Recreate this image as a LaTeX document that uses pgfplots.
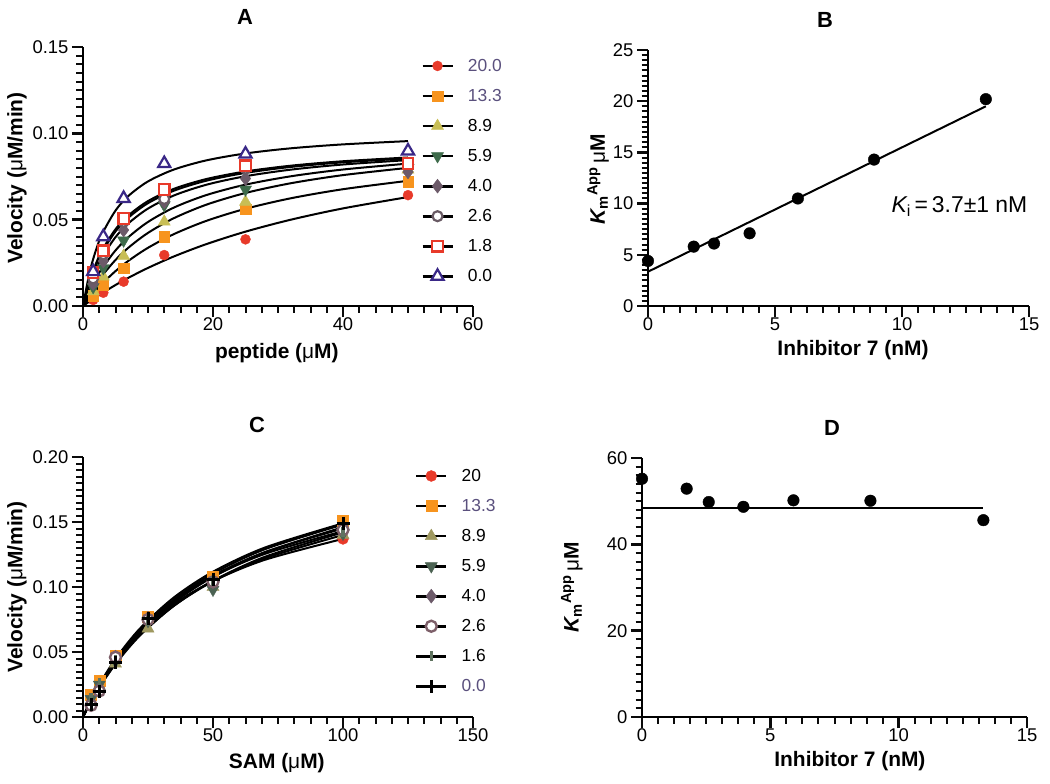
\documentclass[border=0pt]{standalone}
\usepackage{fontspec}
\setmainfont{Liberation Sans}
\usepackage{pgfplots}
\pgfplotsset{compat=1.18}
\definecolor{cRed}{RGB}{232,58,42}
\definecolor{cOrange}{RGB}{247,148,30}
\definecolor{cYellow}{RGB}{200,190,85}
\definecolor{cGreen}{RGB}{62,107,75}
\definecolor{cDiam}{RGB}{108,90,105}
\definecolor{cCirc}{RGB}{105,90,100}
\definecolor{cIndigo}{RGB}{58,40,135}
\definecolor{legPurp}{RGB}{90,80,125}
\definecolor{cOlive}{RGB}{158,152,95}
\definecolor{cGreenC}{RGB}{75,98,82}
\definecolor{cCircC}{RGB}{125,95,105}
\definecolor{cOneSix}{RGB}{95,115,95}
\definecolor{tickcol}{RGB}{10,10,10}
\pgfplotsset{
  prism/.style={
    scale only axis,
    axis x line=bottom, axis y line=left,
    axis line style={-, line width=2.5bp, black},
    tick align=outside,
    major tick length=11bp, minor tick length=6.5bp,
    tick style={draw=tickcol, line width=2.4bp},
    minor tick style={draw=tickcol, line width=2bp},
    tick label style={font=\fontsize{18.5}{18.5}\selectfont, black},
    xticklabel style={yshift=3bp},
    /pgf/number format/assume math mode=true,
    label style={font=\bfseries\fontsize{21}{21}\selectfont},
    clip=false,
    legend cell align=left,
    legend style={draw=none, fill=none, font=\fontsize{17.5}{17.5}\selectfont, anchor=north west, inner sep=0pt, outer sep=0pt, row sep=12.4bp, /tikz/every odd column/.append style={column sep=12bp}},
    legend image code/.code={\draw[black,line width=2.8bp] (0bp,0bp) -- (30bp,0bp); \draw[##1] plot coordinates {(15bp,0bp)};},
  },
  curve/.style={black, line width=2bp, smooth, forget plot, no markers},
}
\begin{document}
\begin{tikzpicture}
\useasboundingbox (0bp,0bp) rectangle (1050bp,-784bp);
\node[font=\bfseries\fontsize{22}{22}\selectfont] at (245bp,-17bp) {A};
\node[font=\bfseries\fontsize{22}{22}\selectfont] at (825bp,-20bp) {B};
\node[font=\bfseries\fontsize{22}{22}\selectfont] at (257bp,-425bp) {C};
\node[font=\bfseries\fontsize{22}{22}\selectfont] at (832bp,-428bp) {D};
% ---------------- Panel A ----------------
\begin{axis}[prism, at={(83bp,-306bp)}, anchor=south west, width=390bp, height=259bp,
  xmin=0, xmax=60, ymin=0, ymax=0.15,
  xtick={0,20,40,60}, ytick={0,0.05,0.10,0.15},
  minor x tick num=7, minor y tick num=9,
  yticklabel style={/pgf/number format/.cd, fixed, fixed zerofill, precision=2},
  xlabel={peptide ({\mdseries μ}M)}, ylabel={Velocity ({\mdseries μ}M/min)},
  xlabel style={at={(axis description cs:0.497,-0.181)}, anchor=center},
  ylabel style={at={(axis description cs:-0.169,0.494)}, anchor=center},
  legend style={at={(axis description cs:0.867,0.961)}},
]
\addplot[only marks, mark=*, color=cRed, mark size=5bp] coordinates {(1.5625,0.0035)(3.125,0.0077)(6.25,0.0141)(12.5,0.0295)(25,0.0386)(50,0.0642)};
\addplot[only marks, mark=square*, color=cOrange, mark size=5.2bp] coordinates {(1.5625,0.0060)(3.125,0.0121)(6.25,0.0218)(12.5,0.0401)(25,0.0561)(50,0.0719)};
\addplot[only marks, mark=triangle*, color=cYellow, mark size=7bp] coordinates {(1.5625,0.0085)(3.125,0.0170)(6.25,0.0290)(12.5,0.0488)(25,0.0603)(50,0.0790)};
\addplot[only marks, mark=triangle*, color=cGreen, mark size=7bp, mark options={rotate=180}] coordinates {(1.5625,0.0110)(3.125,0.0220)(6.25,0.0380)(12.5,0.0584)(25,0.0675)(50,0.0800)};
\addplot[only marks, mark=diamond*, color=cDiam, mark size=7bp] coordinates {(1.5625,0.0130)(3.125,0.0260)(6.25,0.0440)(12.5,0.0603)(25,0.0738)(50,0.0777)};
\addplot[only marks, mark=*, color=cCirc, mark size=5bp, mark options={fill=white, line width=2.2bp}] coordinates {(1.5625,0.0160)(3.125,0.0300)(6.25,0.0488)(12.5,0.0620)(25,0.0796)(50,0.0820)};
\addplot[only marks, mark=square*, color=cRed, mark size=5.2bp, mark options={fill=white, line width=2.2bp}] coordinates {(1.5625,0.0193)(3.125,0.0320)(6.25,0.0507)(12.5,0.0675)(25,0.0812)(50,0.0825)};
\addplot[only marks, mark=triangle*, color=cIndigo, mark size=7bp, mark options={fill=white, line width=2.2bp}] coordinates {(1.5625,0.0199)(3.125,0.0401)(6.25,0.0623)(12.5,0.0825)(25,0.0880)(50,0.0898)};
\legend{\textcolor{legPurp}{20.0},\textcolor{legPurp}{13.3},8.9,5.9,4.0,2.6,1.8,0.0}
% fitted curves
\addplot[curve] coordinates {(0,0)(1,0.00265)(2,0.00519)(3,0.00761)(5,0.01216)(7,0.01636)(10,0.02206)(14,0.02873)(19,0.03587)(25,0.04307)(32,0.05001)(40,0.05653)(50,0.06310)};
\addplot[curve] coordinates {(0,0)(1,0.00480)(2,0.00917)(3,0.01316)(5,0.02020)(7,0.02620)(10,0.03371)(14,0.04167)(19,0.04934)(25,0.05631)(32,0.06241)(40,0.06764)(50,0.07251)};
\addplot[curve] coordinates {(0,0)(1,0.00673)(2,0.01263)(3,0.01784)(5,0.02666)(7,0.03382)(10,0.04235)(14,0.05090)(19,0.05871)(25,0.06546)(32,0.07112)(40,0.07580)(50,0.08001)};
\addplot[curve] coordinates {(0,0)(1,0.00868)(2,0.01597)(3,0.02218)(5,0.03219)(7,0.03992)(10,0.04868)(14,0.05703)(19,0.06428)(25,0.07028)(32,0.07514)(40,0.07905)(50,0.08248)};
\addplot[curve] coordinates {(0,0)(1,0.01191)(2,0.02121)(3,0.02866)(5,0.03988)(7,0.04791)(10,0.05643)(14,0.06403)(19,0.07025)(25,0.07516)(32,0.07898)(40,0.08195)(50,0.08450)};
\addplot[curve] coordinates {(0,0)(1,0.01351)(2,0.02368)(3,0.03162)(5,0.04320)(7,0.05124)(10,0.05957)(14,0.06680)(19,0.07259)(25,0.07709)(32,0.08055)(40,0.08321)(50,0.08547)};
\addplot[curve] coordinates {(0,0)(1,0.01412)(2,0.02462)(3,0.03273)(5,0.04444)(7,0.05250)(10,0.06076)(14,0.06788)(19,0.07355)(25,0.07792)(32,0.08127)(40,0.08384)(50,0.08602)};
\addplot[curve] coordinates {(0,0)(1,0.01924)(2,0.03247)(3,0.04212)(5,0.05527)(7,0.06380)(10,0.07215)(14,0.07905)(19,0.08436)(25,0.08835)(32,0.09134)(40,0.09360)(50,0.09550)};
\end{axis}
% ---------------- Panel B ----------------
\begin{axis}[prism, at={(648bp,-306bp)}, anchor=south west, width=381bp, height=256bp,
  xmin=0, xmax=15, ymin=0, ymax=25,
  xtick={0,5,10,15}, ytick={0,5,10,15,20,25},
  minor x tick num=7, minor y tick num=9,
  xlabel={Inhibitor 7 (nM)}, ylabel={{\itshape K}\textsubscript{m}\textsuperscript{App}\,{\mdseries μ}M},
  xlabel style={at={(axis description cs:0.538,-0.172)}, anchor=center},
  ylabel style={at={(axis description cs:-0.131,0.496)}, anchor=center},
]
\addplot[black, line width=2bp, no markers] coordinates {(0,3.35)(13.3,19.5)};
\addplot[only marks, mark=*, color=black, mark size=5.8bp] coordinates {(0,4.4)(1.8,5.8)(2.6,6.1)(4.0,7.1)(5.9,10.5)(8.9,14.3)(13.3,20.2)};
\node[anchor=west, font=\fontsize{23}{23}\selectfont] at (axis cs:9.45,9.7) {{\itshape K}\textsubscript{i}\,=\,3.7±1 nM};
\end{axis}
% ---------------- Panel C ----------------
\begin{axis}[prism, at={(83bp,-717bp)}, anchor=south west, width=390bp, height=260bp,
  xmin=0, xmax=150, ymin=0, ymax=0.20,
  xtick={0,50,100,150}, ytick={0,0.05,0.10,0.15,0.20},
  minor x tick num=7, minor y tick num=9,
  yticklabel style={/pgf/number format/.cd, fixed, fixed zerofill, precision=2},
  xlabel={SAM ({\mdseries μ}M)}, ylabel={Velocity ({\mdseries μ}M/min)},
  xlabel style={at={(axis description cs:0.497,-0.177)}, anchor=center},
  ylabel style={at={(axis description cs:-0.169,0.5)}, anchor=center},
  legend style={at={(axis description cs:0.851,0.961)}},
]
\addplot[only marks, mark=*, color=cRed, mark size=5.5bp] coordinates {(3.125,0.010)(6.25,0.021)(12.5,0.045)(25,0.075)(50,0.105)(100,0.137)};
\addplot[only marks, mark=square*, color=cOrange, mark size=5.5bp] coordinates {(3.125,0.017)(6.25,0.028)(12.5,0.047)(25,0.077)(50,0.108)(100,0.151)};
\addplot[only marks, mark=triangle*, color=cOlive, mark size=7bp] coordinates {(3.125,0.012)(6.25,0.024)(12.5,0.041)(25,0.068)(50,0.100)(100,0.140)};
\addplot[only marks, mark=triangle*, color=cGreenC, mark size=7bp, mark options={rotate=180}] coordinates {(3.125,0.014)(6.25,0.025)(12.5,0.043)(25,0.074)(50,0.098)(100,0.141)};
\addplot[only marks, mark=diamond*, color=cDiam, mark size=7bp] coordinates {(3.125,0.010)(6.25,0.022)(12.5,0.046)(25,0.076)(50,0.104)(100,0.145)};
\addplot[only marks, mark=*, color=cCircC, mark size=5.5bp, mark options={fill=white, line width=2.4bp}] coordinates {(3.125,0.009)(6.25,0.020)(12.5,0.046)(25,0.075)(50,0.104)(100,0.144)};
\addplot[only marks, mark=|, color=cOneSix, mark size=5bp, mark options={line width=3.5bp}] coordinates {(3.125,0.015)(6.25,0.026)(12.5,0.044)(25,0.074)(50,0.105)(100,0.142)};
\addplot[only marks, mark=+, color=black, mark size=6.5bp, mark options={line width=3bp}] coordinates {(3.125,0.010)(6.25,0.020)(12.5,0.042)(25,0.076)(50,0.106)(100,0.149)};
\legend{20,\textcolor{legPurp}{13.3},8.9,5.9,4.0,2.6,1.6,\textcolor{legPurp}{0.0}}
\addplot[curve] coordinates {(0,0)(3,0.01242)(7,0.02675)(13,0.04454)(22,0.06525)(35,0.08693)(50,0.10458)(70,0.12095)(100,0.13704)};
\addplot[curve] coordinates {(0,0)(3,0.01265)(7,0.02745)(13,0.04612)(22,0.06829)(35,0.09203)(50,0.11175)(70,0.13037)(100,0.14900)};
\addplot[curve] coordinates {(0,0)(3,0.01138)(7,0.02485)(13,0.04208)(22,0.06289)(35,0.08560)(50,0.10481)(70,0.12326)(100,0.14200)};
\addplot[curve] coordinates {(0,0)(3,0.01161)(7,0.02525)(13,0.04256)(22,0.06327)(35,0.08561)(50,0.10431)(70,0.12210)(100,0.14000)};
\addplot[curve] coordinates {(0,0)(3,0.01231)(7,0.02671)(13,0.04488)(22,0.06646)(35,0.08956)(50,0.10875)(70,0.12687)(100,0.14500)};
\addplot[curve] coordinates {(0,0)(3,0.01245)(7,0.02693)(13,0.04509)(22,0.06650)(35,0.08923)(50,0.10796)(70,0.12553)(100,0.14297)};
\addplot[curve] coordinates {(0,0)(3,0.01170)(7,0.02555)(13,0.04326)(22,0.06466)(35,0.08801)(50,0.10776)(70,0.12673)(100,0.14600)};
\addplot[curve] coordinates {(0,0)(3,0.01227)(7,0.02669)(13,0.04500)(22,0.06689)(35,0.09052)(50,0.11030)(70,0.12910)(100,0.14803)};
\end{axis}
% ---------------- Panel D ----------------
\begin{axis}[prism, at={(642bp,-717bp)}, anchor=south west, width=385bp, height=259bp,
  xmin=0, xmax=15, ymin=0, ymax=60,
  xtick={0,5,10,15}, ytick={0,20,40,60},
  minor x tick num=7, minor y tick num=9,
  xlabel={Inhibitor 7 (nM)}, ylabel={{\itshape K}\textsubscript{m}\textsuperscript{App}\,{\mdseries μ}M},
  xlabel style={at={(axis description cs:0.540,-0.170)}, anchor=center},
  ylabel style={at={(axis description cs:-0.182,0.502)}, anchor=center},
]
\addplot[black, line width=2bp, no markers] coordinates {(0,48.5)(13.3,48.5)};
\addplot[only marks, mark=*, color=black, mark size=5.8bp] coordinates {(0,55.2)(1.74,52.9)(2.6,49.8)(3.95,48.7)(5.9,50.2)(8.9,50.1)(13.3,45.6)};
\end{axis}
\end{tikzpicture}
\end{document}
